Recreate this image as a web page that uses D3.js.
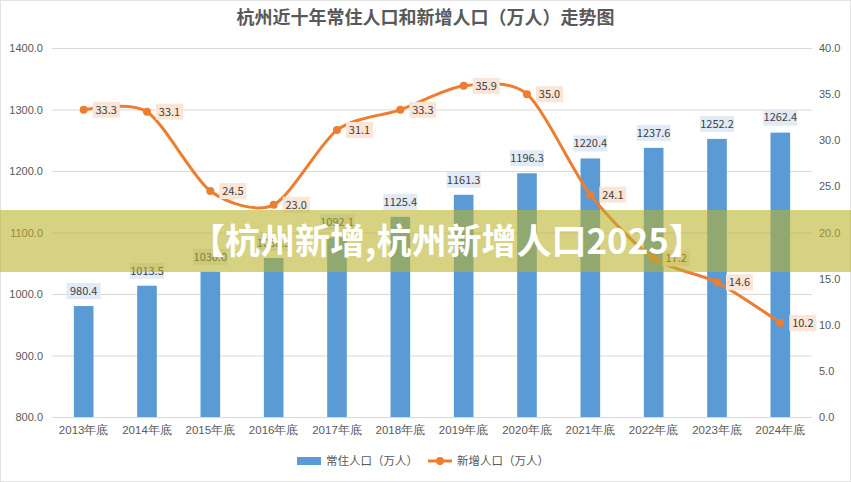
<!DOCTYPE html>
<html>
<head>
<meta charset="utf-8">
<script src="https://cdn.jsdelivr.net/npm/d3@7"></script>
<style>
  html, body { margin: 0; padding: 0; background: #fff; }
  svg { display: block; font-family: "Noto Sans CJK SC", "Noto Sans", sans-serif; }
</style>
</head>
<body>
<svg id="chart"></svg>
<script>
// chart data
const years = ['2013年底', '2014年底', '2015年底', '2016年底', '2017年底', '2018年底',
  '2019年底', '2020年底', '2021年底', '2022年底', '2023年底', '2024年底'];
const residents = [980.4, 1013.5, 1036.0, 1058.5, 1092.1, 1125.4, 1161.3, 1196.3, 1220.4, 1237.6, 1252.2, 1262.4];
const newcomers = [33.3, 33.1, 24.5, 23.0, 31.1, 33.3, 35.9, 35.0, 24.1, 17.2, 14.6, 10.2];
const leftTicks = [800, 900, 1000, 1100, 1200, 1300, 1400];
const rightTicks = [0, 5, 10, 15, 20, 25, 30, 35, 40];

const title = '杭州近十年常住人口和新增人口（万人）走势图';
const seriesNames = ['常住人口（万人）', '新增人口（万人）'];
const bannerText = '【杭州新增,杭州新增人口2025】';

const width = 851;
const height = 482;
const margin = { top: 48, right: 39, bottom: 65, left: 52 };
const innerWidth = width - margin.left - margin.right;
const innerHeight = height - margin.top - margin.bottom;

const barColor = '#5b9bd5';
const lineColor = '#ed7d31';
const textColor = '#595959';

const svg = d3.select('#chart')
  .attr('width', width)
  .attr('height', height);

// faint outer frame
svg.append('rect')
  .attr('x', 0.5).attr('y', 0.5)
  .attr('width', width - 1).attr('height', height - 1)
  .attr('fill', 'none')
  .attr('stroke', '#e3e3e3');

const xScale = d3.scaleBand()
  .domain(years)
  .range([margin.left, margin.left + innerWidth])
  .paddingInner(0.69)
  .paddingOuter(0.345);

const yLeft = d3.scaleLinear()
  .domain([800, 1400])
  .range([margin.top + innerHeight, margin.top]);

const yRight = d3.scaleLinear()
  .domain([0, 40])
  .range([margin.top + innerHeight, margin.top]);

// title
svg.append('text')
  .attr('x', width / 2)
  .attr('y', 24)
  .attr('text-anchor', 'middle')
  .attr('fill', textColor)
  .attr('font-size', 18)
  .attr('font-weight', 'bold')
  .text(title);

// gridlines + left axis
const leftAxis = svg.append('g')
  .attr('transform', `translate(${margin.left}, 0)`)
  .call(d3.axisLeft(yLeft)
    .tickValues(leftTicks)
    .tickSize(-innerWidth)
    .tickPadding(9)
    .tickFormat(d3.format('.1f')));
leftAxis.select('.domain').remove();
leftAxis.selectAll('line').attr('stroke', '#d9d9d9');
leftAxis.selectAll('text').attr('fill', textColor).attr('font-size', 11);

// right axis
const rightAxis = svg.append('g')
  .attr('transform', `translate(${margin.left + innerWidth}, 0)`)
  .call(d3.axisRight(yRight)
    .tickValues(rightTicks)
    .tickSize(0)
    .tickPadding(7)
    .tickFormat(d3.format('.1f')));
rightAxis.select('.domain').remove();
rightAxis.selectAll('text').attr('fill', textColor).attr('font-size', 11);

// x axis labels
const xAxis = svg.append('g')
  .attr('transform', `translate(0, ${margin.top + innerHeight})`)
  .call(d3.axisBottom(xScale).tickSize(0).tickPadding(9));
xAxis.select('.domain').remove();
xAxis.selectAll('text').attr('fill', textColor).attr('font-size', 11.5);

// bars
svg.append('g')
  .selectAll('rect')
  .data(residents)
  .enter().append('rect')
  .attr('x', (d, i) => xScale(years[i]))
  .attr('y', d => yLeft(d))
  .attr('width', xScale.bandwidth())
  .attr('height', d => yLeft(800) - yLeft(d))
  .attr('fill', barColor);

// bar labels
const barLabels = svg.append('g')
  .selectAll('g')
  .data(residents)
  .enter().append('g')
  .attr('transform', (d, i) => `translate(${xScale(years[i]) + xScale.bandwidth() / 2}, ${yLeft(d) - 15})`);

barLabels.append('rect')
  .attr('x', -17).attr('y', -8)
  .attr('width', 34).attr('height', 16)
  .attr('fill', '#e2eaf5');

barLabels.append('text')
  .attr('text-anchor', 'middle')
  .attr('dy', '0.35em')
  .attr('fill', '#404040')
  .attr('font-size', 11)
  .text(d => d.toFixed(1));

// line
const cx = i => xScale(years[i]) + xScale.bandwidth() / 2;

const line = d3.line()
  .x((d, i) => cx(i))
  .y(d => yRight(d))
  .curve(d3.curveCardinal.tension(0.2));

svg.append('path')
  .datum(newcomers)
  .attr('d', line)
  .attr('fill', 'none')
  .attr('stroke', lineColor)
  .attr('stroke-width', 3);

svg.append('g')
  .selectAll('circle')
  .data(newcomers)
  .enter().append('circle')
  .attr('cx', (d, i) => cx(i))
  .attr('cy', d => yRight(d))
  .attr('r', 4)
  .attr('fill', lineColor);

// line labels
const lineLabels = svg.append('g')
  .selectAll('g')
  .data(newcomers)
  .enter().append('g')
  .attr('transform', (d, i) => `translate(${cx(i) + 9}, ${yRight(d)})`);

lineLabels.append('rect')
  .attr('x', 0).attr('y', -8)
  .attr('width', 27).attr('height', 16)
  .attr('fill', '#fbe5d6');

lineLabels.append('text')
  .attr('x', 13.5)
  .attr('text-anchor', 'middle')
  .attr('dy', '0.35em')
  .attr('fill', '#404040')
  .attr('font-size', 11)
  .text(d => d.toFixed(1));

// legend
const legend = svg.append('g').attr('transform', 'translate(297, 461)');

legend.append('rect')
  .attr('x', 0).attr('y', -4)
  .attr('width', 24).attr('height', 8)
  .attr('fill', barColor);

legend.append('text')
  .attr('x', 29).attr('dy', '0.35em')
  .attr('fill', textColor)
  .attr('font-size', 11.5)
  .text(seriesNames[0]);

legend.append('line')
  .attr('x1', 131).attr('x2', 155)
  .attr('stroke', lineColor)
  .attr('stroke-width', 3);

legend.append('circle')
  .attr('cx', 143).attr('r', 4)
  .attr('fill', lineColor);

legend.append('text')
  .attr('x', 160).attr('dy', '0.35em')
  .attr('fill', textColor)
  .attr('font-size', 11.5)
  .text(seriesNames[1]);

// overlay banner
svg.append('rect')
  .attr('x', 0).attr('y', 210)
  .attr('width', width).attr('height', 62)
  .attr('fill', 'rgb(184, 178, 40)')
  .attr('fill-opacity', 0.58);

svg.append('text')
  .attr('x', 447)
  .attr('y', 254)
  .attr('text-anchor', 'middle')
  .attr('fill', '#fff')
  .attr('font-size', 35)
  .attr('font-weight', 'bold')
  .text(bannerText);
</script>
</body>
</html>
